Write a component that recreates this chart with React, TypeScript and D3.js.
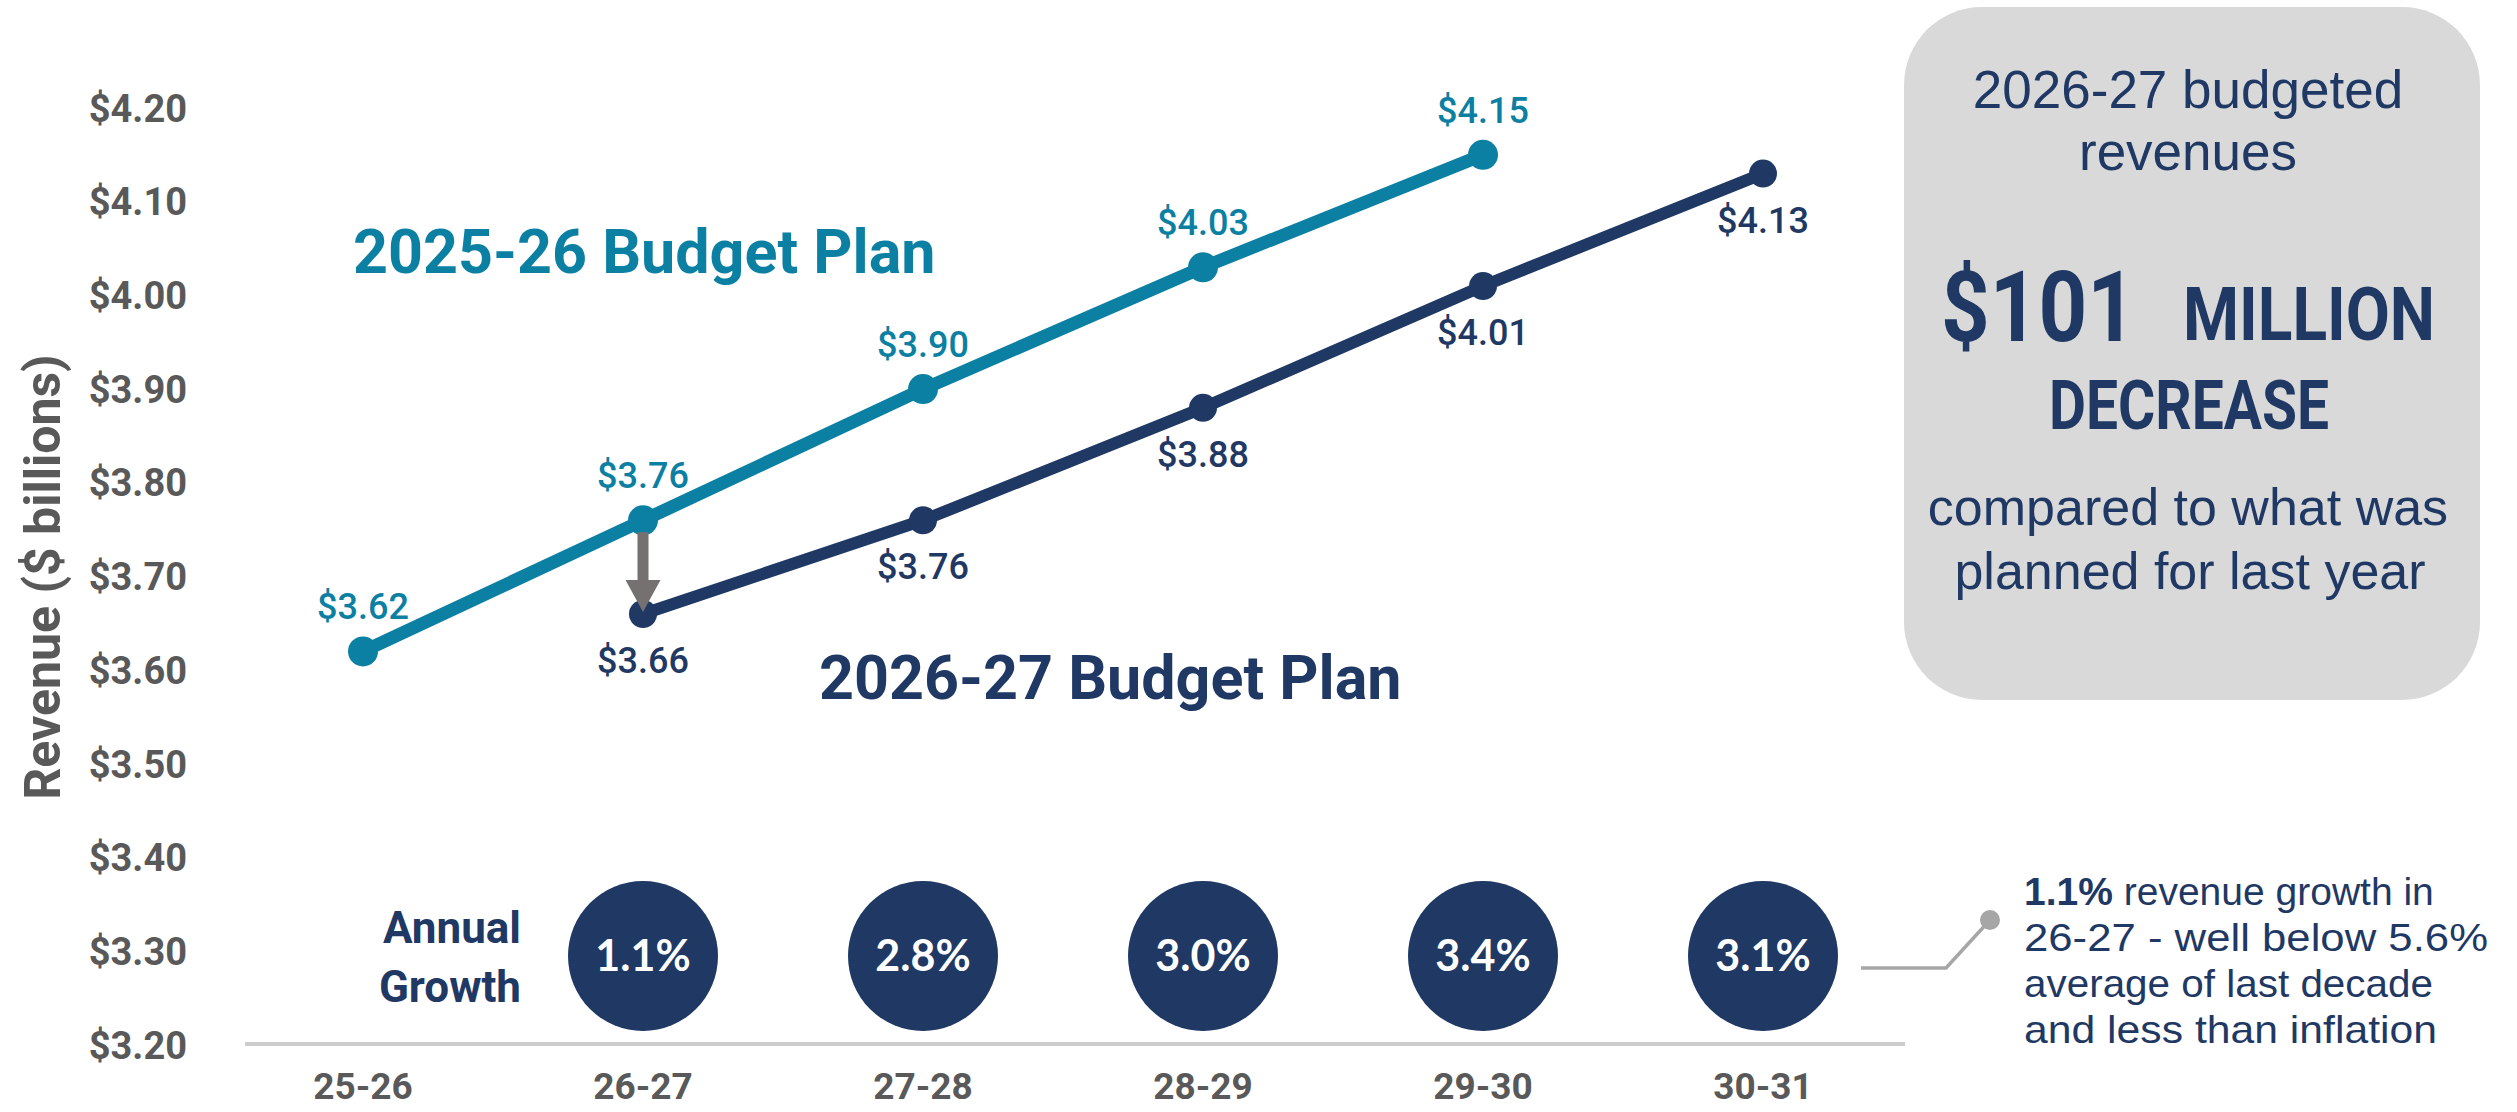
import React from "react";
import * as d3 from "d3";

const categories = ["25-26", "26-27", "27-28", "28-29", "29-30", "30-31"];
const plan2526: (number | null)[] = [3.62, 3.76, 3.9, 4.03, 4.15, null];
const plan2627: (number | null)[] = [null, 3.66, 3.76, 3.88, 4.01, 4.13];
const growthCategories = ["26-27", "27-28", "28-29", "29-30", "30-31"];
const growthValues = [1.1, 2.8, 3.0, 3.4, 3.1];
const yTicks = [3.2, 3.3, 3.4, 3.5, 3.6, 3.7, 3.8, 3.9, 4.0, 4.1, 4.2];

const TEAL = "#0c80a2";
const NAVY = "#1f3864";
const GRAY = "#595959";

const W = 2517;
const H = 1112;

export default function App() {
  const x = d3.scalePoint<string>().domain(categories).range([363, 1763]);
  const y = d3.scaleLinear().domain([3.2, 4.2]).range([1045, 108]);

  type P = { c: string; v: number | null };
  const s1: P[] = categories.map((c, i) => ({ c, v: plan2526[i] }));
  const s2: P[] = categories.map((c, i) => ({ c, v: plan2627[i] }));
  const line = d3
    .line<P>()
    .defined((d) => d.v != null)
    .x((d) => x(d.c) as number)
    .y((d) => y(d.v as number));

  const ax = x("26-27") as number;
  const aTop = y(3.76) + 12;
  const aTip = y(3.66) - 2;
  const headH = 32;
  const arrowPath = `M${ax - 5.5},${aTop} L${ax + 5.5},${aTop} L${ax + 5.5},${aTip - headH} L${ax + 17.5},${aTip - headH} L${ax},${aTip} L${ax - 17.5},${aTip - headH} L${ax - 5.5},${aTip - headH} Z`;

  const fmt = (v: number) => "$" + v.toFixed(2);

  return (
    <div style={{ position: "fixed", left: 0, top: 0, background: "#fff" }}>
      <svg width={W} height={H} viewBox={`0 0 ${W} ${H}`} style={{ display: "block" }}>
        <rect x={0} y={0} width={W} height={H} fill="#ffffff" />

        {/* Y axis title */}
        <text
          transform={`translate(60,577) rotate(-90)`}
          textAnchor="middle"
          fontFamily="Roboto, sans-serif"
          fontWeight={700}
          fontSize={50}
          fill={GRAY}
        >
          Revenue ($ billions)
        </text>

        {/* Y tick labels */}
        {yTicks.map((t) => (
          <text
            key={t}
            x={187}
            y={y(t)}
            dy="0.36em"
            textAnchor="end"
            fontFamily="Roboto, sans-serif"
            fontWeight={700}
            fontSize={38}
            fill={GRAY}
          >
            {fmt(t)}
          </text>
        ))}

        {/* baseline */}
        <line x1={245} x2={1905} y1={y(3.2) - 1} y2={y(3.2) - 1} stroke="#cccccc" strokeWidth={4} />

        {/* X labels */}
        {categories.map((c) => (
          <text
            key={c}
            x={x(c)}
            y={1099}
            textAnchor="middle"
            fontFamily="Roboto, sans-serif"
            fontWeight={700}
            fontSize={37}
            fill={GRAY}
          >
            {c}
          </text>
        ))}

        {/* Lines */}
        <path d={line(s1) || ""} fill="none" stroke={TEAL} strokeWidth={13} strokeLinejoin="round" />
        <path d={line(s2) || ""} fill="none" stroke={NAVY} strokeWidth={12} strokeLinejoin="round" />
        {s1.filter((d) => d.v != null).map((d) => (
          <circle key={"a" + d.c} cx={x(d.c)} cy={y(d.v as number)} r={15} fill={TEAL} />
        ))}
        {s2.filter((d) => d.v != null).map((d) => (
          <circle key={"b" + d.c} cx={x(d.c)} cy={y(d.v as number)} r={14} fill={NAVY} />
        ))}

        {/* Data labels */}
        {s1.filter((d) => d.v != null).map((d) => (
          <text
            key={"la" + d.c}
            x={x(d.c)}
            y={y(d.v as number) - 32}
            textAnchor="middle"
            fontFamily="Roboto, sans-serif"
            fontWeight={500}
            fontSize={36}
            fill={TEAL}
          >
            {fmt(d.v as number)}
          </text>
        ))}
        {s2.filter((d) => d.v != null).map((d) => (
          <text
            key={"lb" + d.c}
            x={x(d.c)}
            y={y(d.v as number) + 59}
            textAnchor="middle"
            fontFamily="Roboto, sans-serif"
            fontWeight={500}
            fontSize={36}
            fill={NAVY}
          >
            {fmt(d.v as number)}
          </text>
        ))}

        {/* Arrow */}
        <path d={arrowPath} fill="#767171" />

        {/* Series labels */}
        <text x={353} y={273} fontFamily="Roboto, sans-serif" fontWeight={700} fontSize={61} fill={TEAL}>
          2025-26 Budget Plan
        </text>
        <text x={819} y={699} fontFamily="Roboto, sans-serif" fontWeight={700} fontSize={61} fill={NAVY}>
          2026-27 Budget Plan
        </text>

        {/* Annual growth */}
        <text x={521} y={943} textAnchor="end" fontFamily="Roboto, sans-serif" fontWeight={700} fontSize={44} fill={NAVY}>
          Annual
        </text>
        <text x={521} y={1002} textAnchor="end" fontFamily="Roboto, sans-serif" fontWeight={700} fontSize={44} fill={NAVY}>
          Growth
        </text>
        {growthCategories.map((c, i) => (
          <g key={"g" + c}>
            <circle cx={x(c)} cy={956} r={75} fill={NAVY} />
            <text
              x={x(c)}
              y={956}
              dy="0.36em"
              textAnchor="middle"
              fontFamily="Lato, sans-serif"
              fontWeight={700}
              fontSize={43}
              fill="#ffffff"
            >
              {growthValues[i].toFixed(1) + "%"}
            </text>
          </g>
        ))}

        {/* Callout connector */}
        <polyline points="1861,968 1946,968 1990,920" fill="none" stroke="#a6a6a6" strokeWidth={3.5} />
        <circle cx={1990} cy={920} r={10} fill="#a6a6a6" />
        <g fontFamily="'Liberation Sans', Arial, sans-serif" fontSize={39} fill={NAVY}>
          <text x={2024} y={905}>
            <tspan fontWeight={700}>1.1%</tspan>
            <tspan> revenue growth in</tspan>
          </text>
          <text x={2024} y={951} textLength={464} lengthAdjust="spacingAndGlyphs">
            26-27 - well below 5.6%
          </text>
          <text x={2024} y={997} textLength={409} lengthAdjust="spacingAndGlyphs">
            average of last decade
          </text>
          <text x={2024} y={1043} textLength={413} lengthAdjust="spacingAndGlyphs">
            and less than inflation
          </text>
        </g>

        {/* Right box */}
        <rect x={1904} y={7} width={576} height={693} rx={78} ry={78} fill="#d9d9d9" />
        <g fontFamily="'Liberation Sans', Arial, sans-serif" fill={NAVY} textAnchor="middle">
          <text x={2188} y={108} fontSize={53}>2026-27 budgeted</text>
          <text x={2188} y={170} fontSize={53}>revenues</text>
          <text x={2188} y={525} fontSize={52}>compared to what was</text>
          <text x={2190} y={589} fontSize={52}>planned for last year</text>
        </g>
        <g fontFamily="Roboto, sans-serif" fontWeight={700} fill={NAVY}>
          <text x={1941} y={341} fontSize={98} textLength={195} lengthAdjust="spacingAndGlyphs">$101</text>
          <text x={2183} y={340} fontSize={74} textLength={252} lengthAdjust="spacingAndGlyphs">MILLION</text>
          <text x={2049} y={429} fontSize={68} textLength={280} lengthAdjust="spacingAndGlyphs">DECREASE</text>
        </g>
      </svg>
    </div>
  );
}
